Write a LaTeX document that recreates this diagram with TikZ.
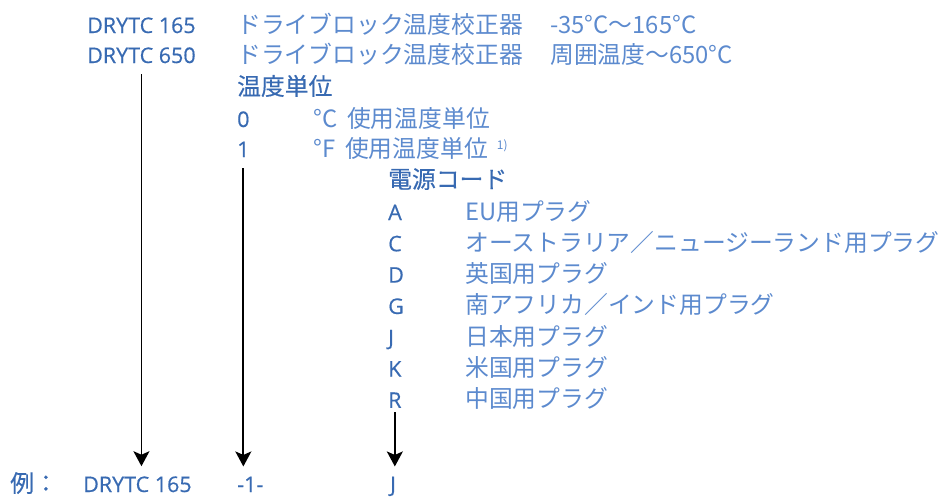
\documentclass[tikz,border=0pt]{standalone}
\usepackage{fontspec}
\setmainfont{Open Sans}
\newfontfamily\jpfont{Noto Sans CJK JP}
\usetikzlibrary{arrows.meta,positioning}
\definecolor{codeblue}{RGB}{56,106,178}
\definecolor{descblue}{RGB}{92,138,206}

\begin{document}
\begin{tikzpicture}[x=1pt,y=-1pt,>={Stealth[length=15pt,width=16pt,inset=3.5pt]},
    code/.style={anchor=base west,inner sep=0pt,text=codeblue,font=\fontsize{21.5}{21.5}\selectfont\addfontfeature{FakeBold=0.5}},
    desc/.style={anchor=base west,inner sep=0pt,text=descblue,font=\jpfont\fontsize{23.8}{23.8}\selectfont},
    head/.style={anchor=base west,inner sep=0pt,text=codeblue,font=\jpfont\fontsize{23.8}{23.8}\selectfont\addfontfeature{FakeBold=0.4}},
    arr/.style={->,line width=1.9pt}]
    \useasboundingbox (0,0) rectangle (947,496);
    % models
    \node[code] (d165) at (87,33) {DRYTC 165};
    \node[code] (d650) at (87,63) {DRYTC 650};
    \node[desc] (n165) at (237,33) {ドライブロック温度校正器};
    \node[desc] (r165) at (550,33) {-35°C～165°C};
    \node[desc] (n650) at (237,63) {ドライブロック温度校正器};
    \node[desc] (r650) at (550,63) {周囲温度～650°C};
    % temperature unit
    \node[head] (unit) at (237,95) {温度単位};
    \node[code] (u0) at (237,127) {0};
    \node[desc] (u0t) at (313,127) {°C\hspace{10pt}使用温度単位};
    \node[code] (u1) at (237,157) {1};
    \node[desc] (u1t) at (313,157) {°F\hspace{10pt}使用温度単位\hspace{9pt}\raisebox{8pt}{\fontsize{12}{12}\selectfont 1)}};
    % power cord
    \node[head] (power) at (388,188) {電源コード};
    \node[code] (pA) at (388,220) {A};
    \node[desc] (tA) at (465,220) {EU用プラグ};
    \node[code] (pC) at (388,251.3) {C};
    \node[desc] (tC) at (465,251.3) {オーストラリア／ニュージーランド用プラグ};
    \node[code] (pD) at (388,282.6) {D};
    \node[desc] (tD) at (465,282.6) {英国用プラグ};
    \node[code] (pG) at (388,313.9) {G};
    \node[desc] (tG) at (465,313.9) {南アフリカ／インド用プラグ};
    \node[code] (pJ) at (388,345.2) {J};
    \node[desc] (tJ) at (465,345.2) {日本用プラグ};
    \node[code] (pK) at (388,376.5) {K};
    \node[desc] (tK) at (465,376.5) {米国用プラグ};
    \node[code] (pR) at (388,407.8) {R};
    \node[desc] (tR) at (465,407.8) {中国用プラグ};
    % example
    \node[head] (exlabel) at (10,492) {例：};
    \node[code] (exmodel) at (83,492) {DRYTC 165};
    \node[code] (exunit) at (237,492) {-1-};
    \node[code] (expower) at (390,492) {J};
    \draw[arr,shorten <=11pt,shorten >=10pt] (d650.south) -- (d650.south |- exmodel.north);
    \draw[arr,shorten <=11pt,shorten >=10pt] (u1.south) -- (u1.south |- exunit.north);
    \draw[arr,shorten <=4pt,shorten >=10pt] (pR.south) -- (pR.south |- expower.north);
\end{tikzpicture}
\end{document}
